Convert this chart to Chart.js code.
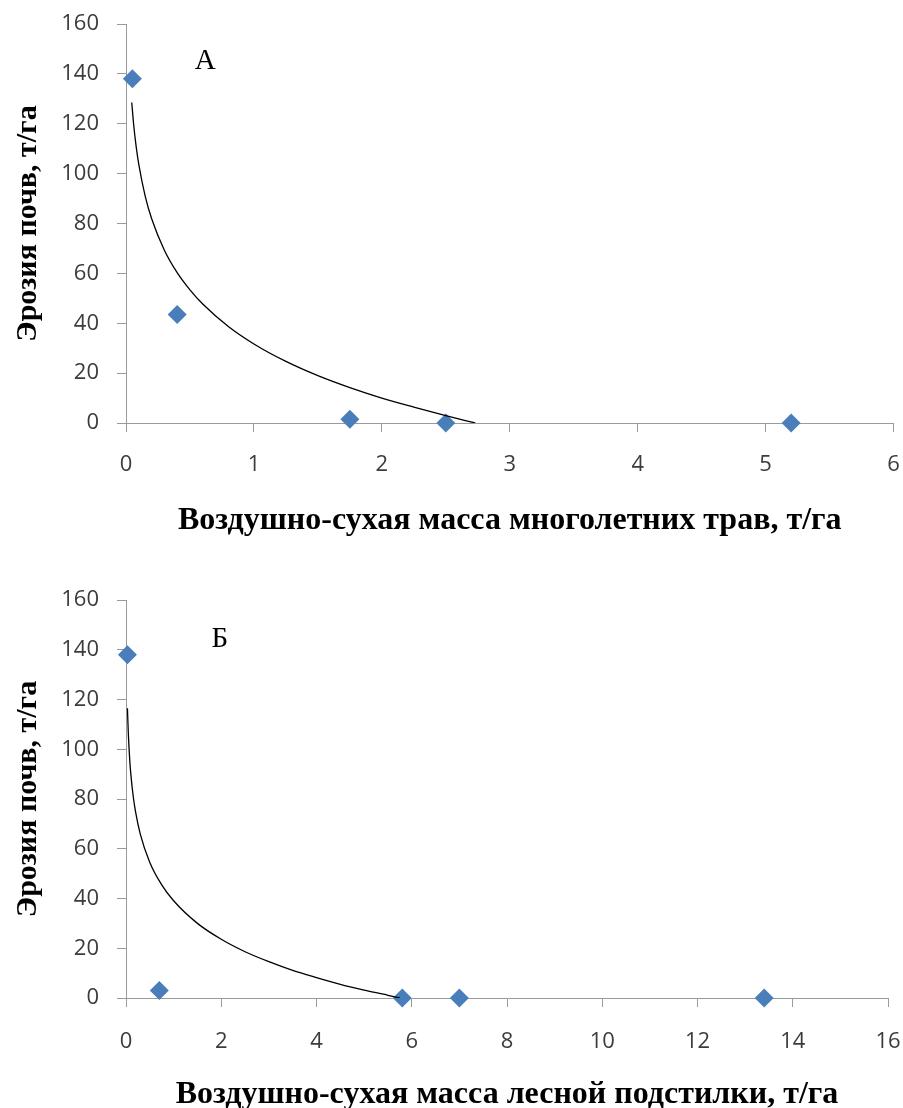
<!DOCTYPE html>
<html>
<head>
<meta charset="utf-8">
<style>
  html, body { margin: 0; padding: 0; background: #fff; overflow: hidden; }
  #wrap { width: 903px; height: 1108px; overflow: hidden; }
  canvas { display: block; }
</style>
</head>
<body>
<div id="wrap">
  <canvas id="grass" width="903" height="554"></canvas>
  <canvas id="litter" width="903" height="560"></canvas>
</div>

<script src="https://cdn.jsdelivr.net/npm/chart.js"></script>

<script>
  // panel А: многолетние травы
  const grassMass = [0.05, 0.4, 1.75, 2.5, 5.2];
  const grassErosion = [138, 43.5, 1.5, 0, 0];
  const grassTrendX = [0.045, 0.06, 0.08, 0.1, 0.15, 0.2, 0.3, 0.4, 0.5, 0.6, 0.8, 1.0, 1.25, 1.5, 1.75, 2.0, 2.25, 2.5, 2.73];
  const grassTrendY = [128.5, 119.6, 110.6, 103.7, 91, 82, 69.3, 60.3, 53.4, 47.7, 38.7, 31.7, 24.7, 19, 14.2, 10, 6.4, 3, 0];

  // panel Б: лесная подстилка
  const litterMass = [0.03, 0.7, 5.8, 7, 13.4];
  const litterErosion = [138, 3, 0, 0, 0];
  const litterTrendX = [0.03, 0.05, 0.08, 0.1, 0.15, 0.2, 0.3, 0.5, 0.75, 1, 1.5, 2, 2.5, 3, 3.5, 4, 4.5, 5, 5.5, 5.75];
  const litterTrendY = [116.5, 105.8, 95.3, 90.3, 81.3, 74.9, 65.9, 54.5, 45.5, 39.1, 30, 23.6, 18.6, 14.6, 11.1, 8.2, 5.5, 3.2, 1.1, 0];

  const yTitle = 'Эрозия почв, т/га';
  const grassTitle = 'Воздушно-сухая масса многолетних трав, т/га';
  const litterTitle = 'Воздушно-сухая масса лесной подстилки, т/га';

  const axisColor = '#9a9a9a';
  const tickFont = { family: 'Open Sans', size: 22 };
  const titleFont = { family: 'Liberation Serif', size: 32, weight: 'bold', lineHeight: 1 };

  const toPoints = (xs, ys) => xs.map((x, i) => ({ x: x, y: ys[i] }));

  // draws the panel letter (А / Б) at a data position
  const panelLabel = {
    id: 'panelLabel',
    afterDatasetsDraw(chart, args, opts) {
      const ctx = chart.ctx;
      ctx.save();
      ctx.font = '29px "Liberation Serif"';
      ctx.fillStyle = '#000';
      ctx.textAlign = 'center';
      ctx.textBaseline = 'middle';
      ctx.fillText(opts.text, chart.scales.x.getPixelForValue(opts.x), chart.scales.y.getPixelForValue(opts.y));
      ctx.restore();
    }
  };

  function makeChart(id, cfg) {
    new Chart(document.getElementById(id), {
      type: 'scatter',
      data: {
        datasets: [{
          data: toPoints(cfg.mass, cfg.erosion),
          pointStyle: 'rectRot',
          pointRadius: 9.5,
          pointBackgroundColor: '#4a7ebb',
          pointBorderColor: '#4a7ebb',
          pointBorderWidth: 0,
          clip: false,
          order: 2
        }, {
          data: toPoints(cfg.trendX, cfg.trendY),
          showLine: true,
          pointRadius: 0,
          borderColor: '#000',
          borderWidth: 1.3,
          cubicInterpolationMode: 'monotone',
          order: 1
        }]
      },
      options: {
        responsive: false,
        animation: false,
        layout: { padding: { top: cfg.top, left: 0, right: cfg.right, bottom: 0 } },
        plugins: {
          legend: { display: false },
          tooltip: { enabled: false },
          panelLabel: cfg.label
        },
        scales: {
          x: {
            type: 'linear',
            min: 0,
            max: cfg.xMax,
            ticks: { stepSize: cfg.xStep, padding: cfg.xPad, font: tickFont, color: '#3c3c3c' },
            grid: { drawOnChartArea: false, tickLength: 9, color: axisColor },
            border: { color: axisColor },
            title: { display: true, text: cfg.xTitle, font: titleFont, color: '#000', padding: { top: 0, bottom: cfg.titlePad } },
            afterFit: s => { s.height = cfg.xHeight; s.paddingLeft = 0; s.paddingRight = 0; }
          },
          y: {
            min: 0,
            max: 160,
            ticks: { stepSize: 20, padding: 18, font: tickFont, color: '#3c3c3c' },
            grid: { drawOnChartArea: false, tickLength: 9, color: axisColor },
            border: { color: axisColor },
            title: { display: true, text: yTitle, font: { family: 'Liberation Serif', size: 30, weight: 'bold', lineHeight: 1 }, color: '#000', padding: { top: 13, bottom: 0 } },
            afterFit: s => { s.width = 126; s.paddingTop = 0; s.paddingBottom = 0; }
          }
        }
      },
      plugins: [panelLabel]
    });
  }

  makeChart('grass', {
    mass: grassMass, erosion: grassErosion, trendX: grassTrendX, trendY: grassTrendY,
    xMax: 6, xStep: 1, xTitle: grassTitle,
    top: 24, right: 9, xHeight: 131, xPad: 20, titlePad: 17,
    label: { text: 'А', x: 0.62, y: 145 }
  });

  makeChart('litter', {
    mass: litterMass, erosion: litterErosion, trendX: litterTrendX, trendY: litterTrendY,
    xMax: 16, xStep: 2, xTitle: litterTitle,
    top: 46, right: 15, xHeight: 116, xPad: 22, titlePad: 3,
    label: { text: 'Б', x: 1.97, y: 144 }
  });
</script>
</body>
</html>
